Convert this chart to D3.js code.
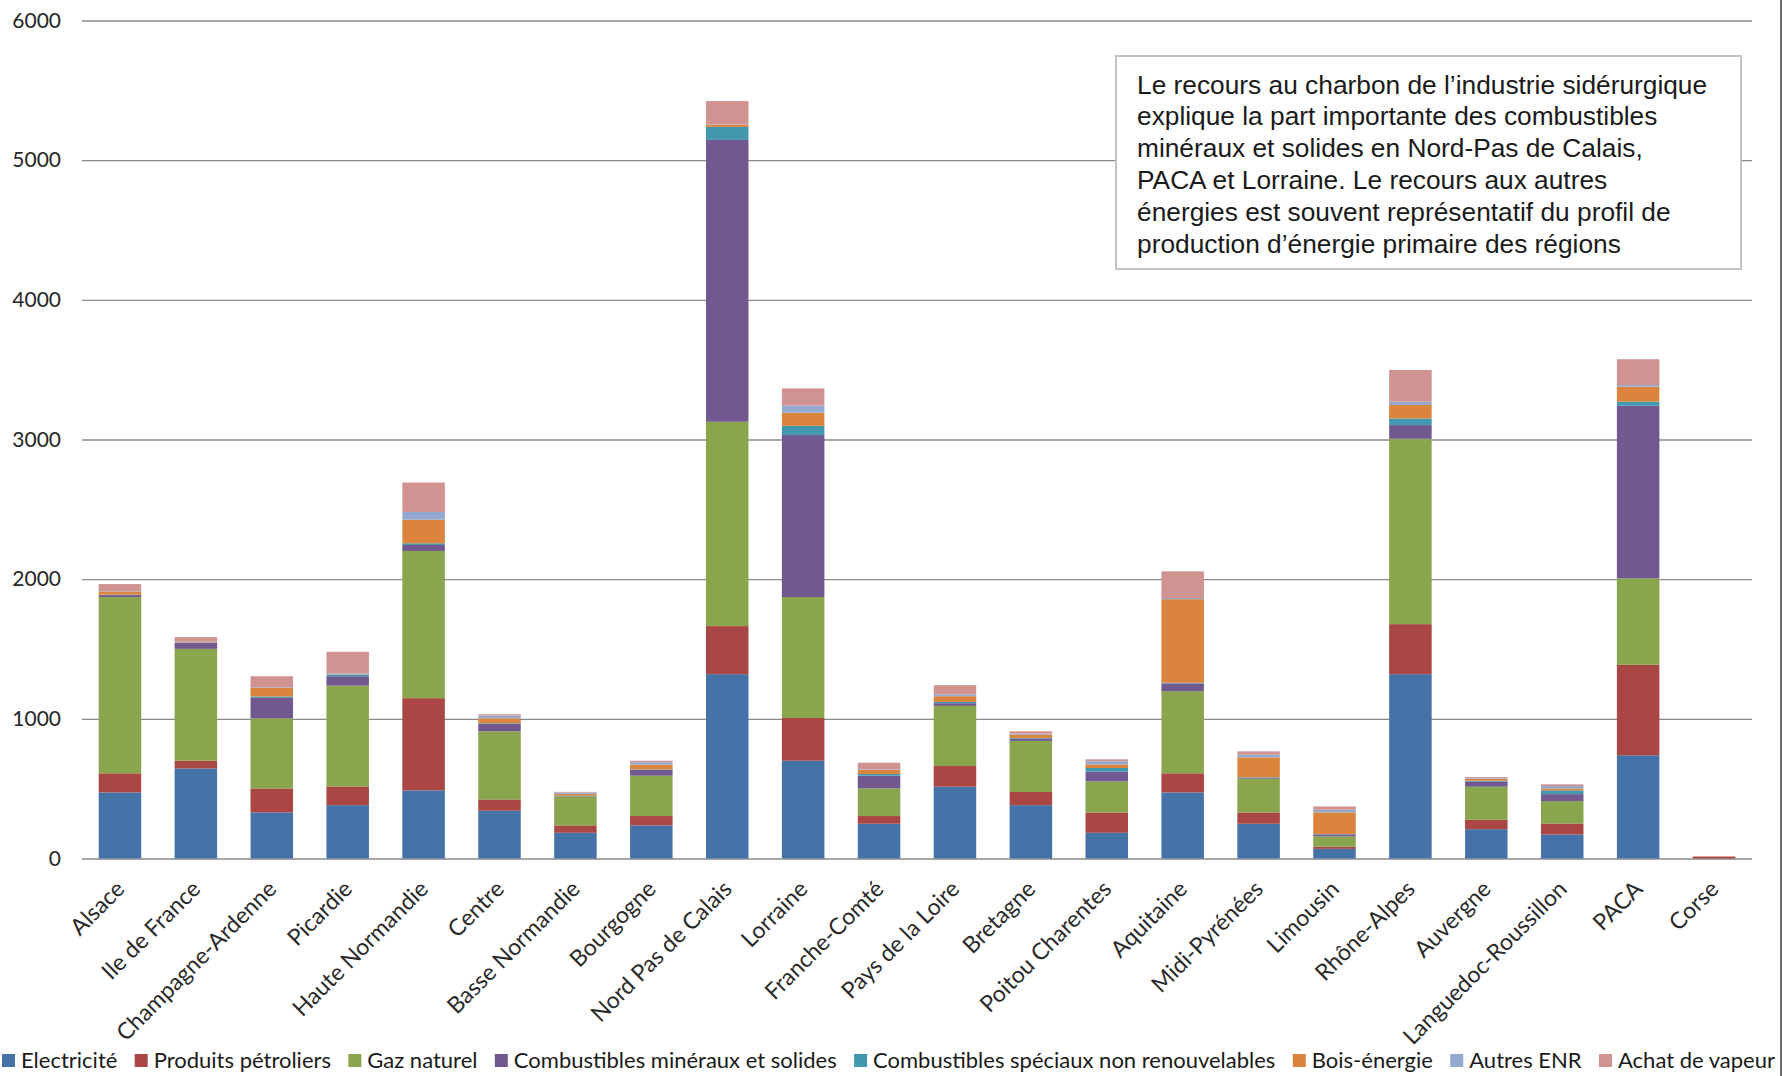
<!DOCTYPE html>
<html>
<head>
<meta charset="utf-8">
<script src="https://cdn.jsdelivr.net/npm/d3@7"></script>
<style>
  body { margin: 0; background: #fff; }
  svg { display: block; }
</style>
</head>
<body>
<svg id="chart" width="1783" height="1076"></svg>
<script>
// Consommation d'énergie finale de l'industrie par région et par type d'énergie
const regions = ["Alsace", "Ile de France", "Champagne-Ardenne", "Picardie", "Haute Normandie",
  "Centre", "Basse Normandie", "Bourgogne", "Nord Pas de Calais", "Lorraine", "Franche-Comté",
  "Pays de la Loire", "Bretagne", "Poitou Charentes", "Aquitaine", "Midi-Pyrénées", "Limousin",
  "Rhône-Alpes", "Auvergne", "Languedoc-Roussillon", "PACA", "Corse"];

const seriesNames = ["Electricité", "Produits pétroliers", "Gaz naturel",
  "Combustibles minéraux et solides", "Combustibles spéciaux non renouvelables",
  "Bois-énergie", "Autres ENR", "Achat de vapeur"];

const electricite = [473, 645, 330, 382, 488, 342, 184, 237, 1320, 700, 249, 514, 382, 184, 473, 249, 69, 1320, 210, 172, 739, 0];
const produitsPetroliers = [137, 55, 172, 134, 660, 81, 53, 67, 344, 306, 55, 148, 94, 146, 137, 81, 15, 358, 67, 79, 648, 14];
const gazNaturel = [1262, 801, 502, 722, 1054, 488, 208, 289, 1463, 866, 198, 431, 366, 222, 588, 241, 74, 1327, 237, 160, 619, 0];
const combustiblesMineraux = [14, 43, 146, 67, 43, 52, 4, 41, 2018, 1160, 91, 19, 16, 70, 55, 5, 14, 98, 38, 50, 1236, 0];
const combustiblesSpeciaux = [3, 2, 10, 12, 12, 5, 2, 4, 93, 66, 12, 9, 5, 26, 5, 5, 3, 48, 5, 27, 29, 0];
const boisEnergie = [23, 3, 64, 2, 169, 36, 12, 34, 15, 94, 29, 41, 24, 26, 599, 143, 155, 96, 14, 14, 107, 0];
const autresENR = [3, 3, 4, 6, 55, 19, 10, 17, 2, 52, 4, 14, 7, 22, 8, 19, 19, 24, 5, 17, 12, 0];
const achatVapeur = [50, 33, 77, 155, 211, 10, 4, 11, 168, 122, 48, 65, 17, 14, 191, 24, 24, 227, 7, 12, 185, 2];

const seriesColors = ["#4572A7", "#AA4643", "#89A54E", "#71588F", "#4198AF", "#DB843D", "#93A9CF", "#D19392"];

const yTicks = [0, 1000, 2000, 3000, 4000, 5000, 6000];

const noteLines = [
  "Le recours au charbon de l\u2019industrie sidérurgique",
  "explique la part importante des combustibles",
  "minéraux et solides en Nord-Pas de Calais,",
  "PACA et Lorraine. Le recours aux autres",
  "énergies est souvent représentatif du profil de",
  "production d\u2019énergie primaire des régions"
];

// Build the row table for d3.stack
const seriesValues = [electricite, produitsPetroliers, gazNaturel, combustiblesMineraux,
  combustiblesSpeciaux, boisEnergie, autresENR, achatVapeur];
const rows = regions.map((r, i) => {
  const o = { region: r };
  seriesNames.forEach((s, k) => { o[s] = seriesValues[k][i]; });
  return o;
});

const svg = d3.select("#chart");
const plotLeft = 82, plotRight = 1752, plotTop = 20.5, plotBottom = 858.5;
const uiFont = "Lato, 'Open Sans', sans-serif";

const x = d3.scaleBand().domain(regions).range([plotLeft, plotRight])
  .paddingInner(0.44).paddingOuter(0.22);
const y = d3.scaleLinear().domain([0, 6000]).range([plotBottom, plotTop]);
const color = d3.scaleOrdinal().domain(seriesNames).range(seriesColors);

// Horizontal gridlines + value labels
const yAxis = d3.axisLeft(y).tickValues(yTicks)
  .tickSize(-(plotRight - plotLeft)).tickPadding(21).tickFormat(d3.format("d"));
const gy = svg.append("g").attr("transform", `translate(${plotLeft},0)`).call(yAxis);
gy.select(".domain").remove();
gy.selectAll(".tick line").attr("stroke", "#8a8a8a").attr("stroke-width", 1.4);
gy.selectAll(".tick text").attr("font-family", uiFont)
  .attr("font-size", 21).attr("fill", "#262626");

// Stacked bars
const stacked = d3.stack().keys(seriesNames)(rows);
svg.append("g").selectAll("g").data(stacked).join("g")
  .attr("fill", d => color(d.key))
  .selectAll("rect").data(d => d).join("rect")
  .attr("x", d => x(d.data.region))
  .attr("width", x.bandwidth())
  .attr("y", d => y(d[1]))
  .attr("height", d => Math.max(0, y(d[0]) - y(d[1])));

// Category labels, rotated 45°
const gx = svg.append("g");
gx.selectAll("text").data(regions).join("text")
  .attr("transform", d => `translate(${x(d) + x.bandwidth() / 2 + 6},${plotBottom + 32}) rotate(-45)`)
  .attr("text-anchor", "end")
  .attr("font-family", uiFont)
  .attr("font-size", 23)
  .attr("fill", "#2a2a2a")
  .text(d => d);

// Note box
const box = { x: 1116, y: 56, w: 625, h: 213 };
svg.append("rect").attr("x", box.x).attr("y", box.y).attr("width", box.w).attr("height", box.h)
  .attr("fill", "#fff").attr("stroke", "#c4c4c4").attr("stroke-width", 2);
svg.append("g").selectAll("text").data(noteLines).join("text")
  .attr("x", box.x + 21)
  .attr("y", (d, i) => box.y + 37.5 + i * 31.8)
  .attr("font-family", "'Liberation Sans', Arial, sans-serif")
  .attr("font-size", 26.3)
  .attr("fill", "#1a1a1a")
  .text(d => d);

// Legend along the bottom, spread over the full width
const sq = 13, sqGap = 6;
const legend = svg.append("g").attr("font-family", uiFont)
  .attr("font-size", 22).attr("fill", "#1a1a1a");
const items = legend.selectAll("g").data(seriesNames).join("g");
items.append("rect").attr("width", sq).attr("height", sq).attr("y", -7)
  .attr("fill", d => color(d));
const texts = items.append("text").attr("x", sq + sqGap).attr("dy", "0.33em").text(d => d);
const widths = [];
texts.each(function () { widths.push(this.getComputedTextLength()); });
const legendStart = 2, legendEnd = 1775;
const used = widths.reduce((a, w) => a + w + sq + sqGap, 0);
const gap = (legendEnd - legendStart - used) / (seriesNames.length - 1);
let cx = legendStart;
items.attr("transform", (d, i) => {
  const t = `translate(${cx},1061)`;
  cx += widths[i] + sq + sqGap + gap;
  return t;
});

// Right frame edge
svg.append("line").attr("x1", 1781).attr("x2", 1781).attr("y1", 0).attr("y2", 1076)
  .attr("stroke", "#6f6f6f").attr("stroke-width", 2);
</script>
</body>
</html>
